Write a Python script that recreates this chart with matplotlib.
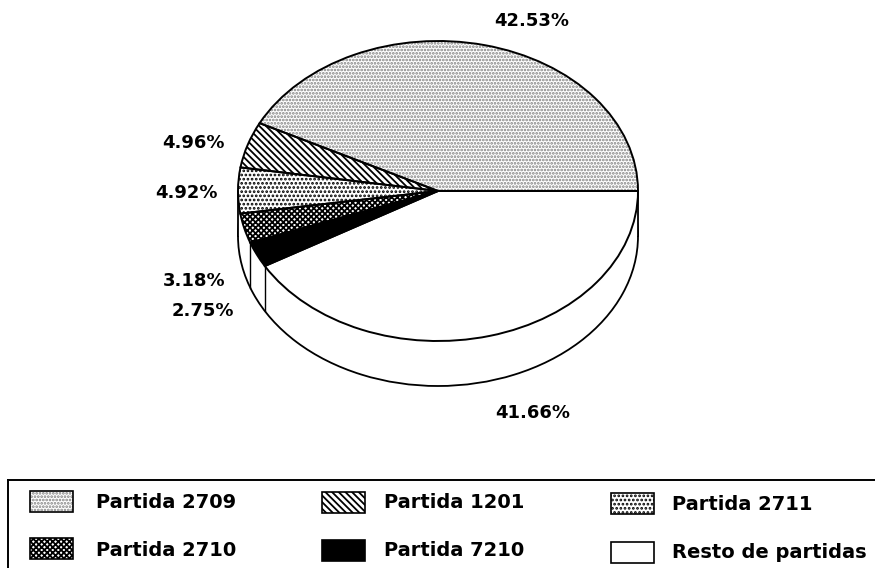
import numpy as np
import matplotlib
matplotlib.use("Agg")
import matplotlib.pyplot as plt
from matplotlib.patches import Rectangle

plt.rcParams['font.family'] = ['DejaVu Sans']
plt.rcParams['hatch.linewidth'] = 1.3

# share of each partida, counter clockwise from 3 o'clock
values = [42.53, 4.96, 4.92, 3.18, 2.75, 41.66]
names = ["Partida 2709", "Partida 1201", "Partida 2711",
         "Partida 2710", "Partida 7210", "Resto de partidas"]
pct_labels = ["42.53%", "4.96%", "4.92%", "3.18%", "2.75%", "41.66%"]
hatches = ['.....', '\\\\\\\\\\', '....', 'xxxxxx', None, None]
hatch_colors = ['#808080', 'black', 'black', 'black', 'black', 'black']
facecolors = ['white', 'white', 'white', 'white', 'black', 'white']

W, H = 875, 568
cx, cy, rx, ry, depth = 438, 191, 200, 150, 45

fig = plt.figure(figsize=(W / 100, H / 100), dpi=100, facecolor='white')

# pie axes: unit circle stretched to an ellipse by the axis limits
ax = fig.add_axes([0, 0, 1, 1])
d = depth / ry
ax.pie([1], colors=['white'], center=(0, -d), radius=1,
       wedgeprops=dict(edgecolor='black', linewidth=1.3))
ax.add_patch(Rectangle((-1, -d), 2, d, facecolor='white', edgecolor='none', zorder=1.5))

# hatch first, then the outlines on top so the hatch colour can differ
fills = ax.pie(values, colors=facecolors, startangle=0, center=(0, 0), radius=1,
               wedgeprops=dict(linewidth=0, zorder=3))[0]
for w, h, c in zip(fills, hatches, hatch_colors):
    w.set_edgecolor(c)
    if h:
        w.set_hatch(h)
ax.pie(values, colors=['none'] * 6, startangle=0, center=(0, 0), radius=1,
       wedgeprops=dict(edgecolor='black', linewidth=1.4, zorder=4))

# vertical edges of the side wall
angles = np.cumsum(values) / 100 * 2 * np.pi
ax.plot([-1, -1], [0, -d], color='black', lw=1.3, zorder=2)
ax.plot([1, 1], [0, -d], color='black', lw=1.3, zorder=2)
for a in angles[3:5]:
    ax.plot([np.cos(a), np.cos(a)], [np.sin(a), np.sin(a) - d], color='black', lw=1.0, zorder=2)

ax.set_aspect('auto')
ax.set_xlim(-cx / rx, (W - cx) / rx)
ax.set_ylim((cy - H) / ry, cy / ry)
ax.axis('off')

# overlay in pixel coordinates for labels and the legend box
ov = fig.add_axes([0, 0, 1, 1], facecolor='none')
ov.set_xlim(0, W)
ov.set_ylim(H, 0)
ov.axis('off')

label_x = [532, 193, 186, 194, 203, 533]
label_y = [21, 143, 193, 281, 311, 413]
for x, y, s in zip(label_x, label_y, pct_labels):
    ov.text(x, y, s, ha='center', va='center', fontsize=13, color='black', fontweight='bold')

ov.plot([8, 875], [480, 480], color='black', lw=1.4)
ov.plot([8, 8], [480, 568], color='black', lw=1.4)

swatch_x = [30, 322, 611, 30, 322, 611]
swatch_y = [491, 492, 493, 538, 540, 542]
text_x = [96, 384, 672, 96, 384, 672]
text_y = [503, 503, 505, 551, 551, 553]
for i in range(6):
    ov.add_patch(Rectangle((swatch_x[i], swatch_y[i]), 43, 21, facecolor=facecolors[i],
                           edgecolor=hatch_colors[i], linewidth=0, hatch=hatches[i]))
    ov.add_patch(Rectangle((swatch_x[i], swatch_y[i]), 43, 21, facecolor='none',
                           edgecolor='black', linewidth=1.2))
    ov.text(text_x[i], text_y[i], names[i], ha='left', va='center', fontsize=14,
            color='black', fontweight='bold')

fig.savefig("out.png", dpi=100, facecolor='white')
